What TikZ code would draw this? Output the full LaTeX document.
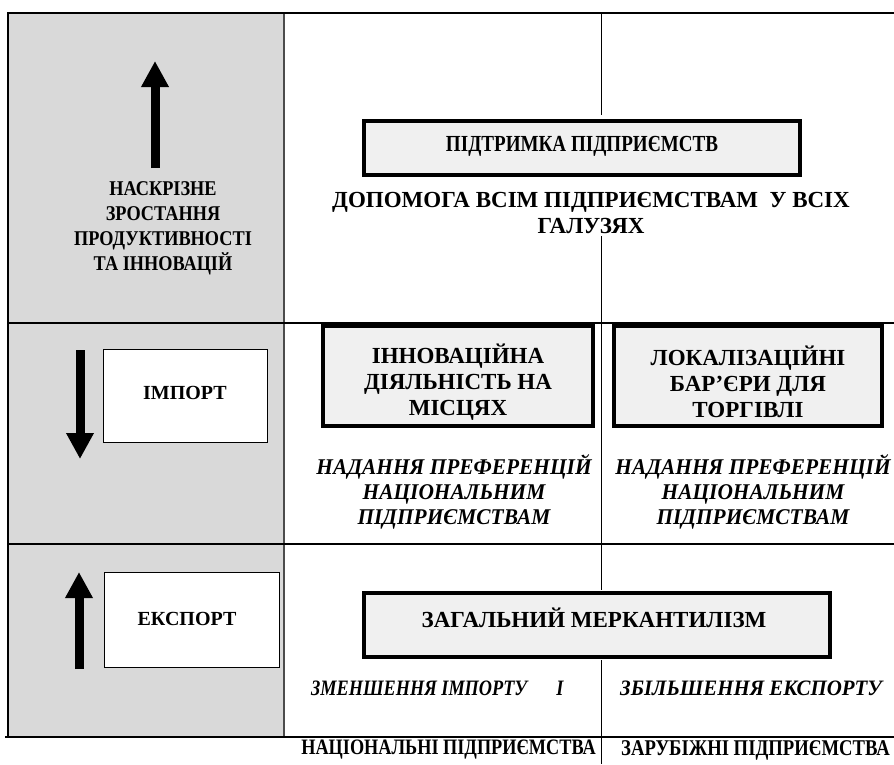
\documentclass[tikz,border=0pt]{standalone}
\usepackage{fontspec}
\setmainfont{Liberation Serif}
\newfontfamily\condA{Liberation Serif}[FakeStretch=0.83]
\newfontfamily\condB{Liberation Serif}[FakeStretch=0.87]
\newfontfamily\condC{Liberation Serif}[FakeStretch=0.95]
\usetikzlibrary{arrows.meta}
\definecolor{colgray}{HTML}{D9D9D9}
\definecolor{boxgray}{HTML}{F0F0F0}
\tikzset{
  mainbox/.style={draw=black, line width=3.5pt, fill=boxgray, inner sep=0pt},
  sidebox/.style={draw=black, line width=1pt, fill=white, inner sep=0pt},
  lbl/.style={font=\fontsize{23}{26}\selectfont\bfseries, align=center, inner sep=0pt},
  rule/.style={line width=2.2pt},
  divider/.style={line width=0.9pt},
  bigarrow/.style={line width=9pt, -{Triangle[width=26pt,length=26pt]}},
}
\begin{document}
\begin{tikzpicture}[x=1pt,y=-1pt]
\useasboundingbox (0,0) rectangle (894,764);
% gray column
\fill[colgray] (8,13) rectangle (284,737);
\draw[line width=2pt, black!70] (284,13) -- (284,737);
% frame rules
\draw[rule] (7,13) -- (894,13);
\draw[rule] (8,323) -- (894,323);
\draw[rule] (8,544) -- (894,544);
\draw[line width=2.8pt] (5,737) -- (894,737);
\draw[rule] (8,12) -- (8,738);
% central divider
\draw[divider] (601,13) -- (601,115);
\draw[divider] (601,236) -- (601,590);
\draw[divider] (601,660) -- (601,764);
% top row
\node[mainbox, minimum width=436pt, minimum height=54pt] (support) at (582,148) {};
\node[lbl, font=\fontsize{23}{26}\selectfont\condA\bfseries] (supporttxt) at (582,146) {ПІДТРИМКА ПІДПРИЄМСТВ};
\node[lbl] (help) at (591,213) {ДОПОМОГА ВСІМ ПІДПРИЄМСТВАМ\ \ У ВСІХ\\ГАЛУЗЯХ};
\coordinate (a1s) at (155,168);
\coordinate (a1e) at (155,61);
\draw[bigarrow] (a1s) -- (a1e);
\node[lbl, font=\fontsize{21}{25}\selectfont\condB\bfseries] (through) at (163,228) {НАСКРІЗНЕ\\ЗРОСТАННЯ\\ПРОДУКТИВНОСТІ\\ТА ІННОВАЦІЙ};
% middle row
\node[mainbox, minimum width=270pt, minimum height=100pt] (innov) at (458,376) {};
\node[lbl] (innovtxt) at (458,382) {ІННОВАЦІЙНА\\ДІЯЛЬНІСТЬ НА\\МІСЦЯХ};
\node[mainbox, minimum width=268pt, minimum height=100pt] (local) at (748,376) {};
\node[lbl] (localtxt) at (748,382) {ЛОКАЛІЗАЦІЙНІ\\БАР’ЄРИ ДЛЯ\\ТОРГІВЛІ};
\node[lbl, font=\fontsize{22.5}{25}\selectfont\condC\bfseries\itshape] (pref1) at (454,492) {НАДАННЯ ПРЕФЕРЕНЦІЙ\\НАЦІОНАЛЬНИМ\\ПІДПРИЄМСТВАМ};
\node[lbl, font=\fontsize{22.5}{25}\selectfont\condC\bfseries\itshape] (pref2) at (753,492) {НАДАННЯ ПРЕФЕРЕНЦІЙ\\НАЦІОНАЛЬНИМ\\ПІДПРИЄМСТВАМ};
\node[sidebox, minimum width=164pt, minimum height=93pt] (import) at (185,396) {};
\node[lbl, font=\fontsize{20}{24}\selectfont\bfseries] (importtxt) at (185,393) {ІМПОРТ};
\coordinate (a2s) at (80,350);
\coordinate (a2e) at (80,459);
\draw[bigarrow] (a2s) -- (a2e);
% bottom row
\node[mainbox, minimum width=466pt, minimum height=64pt] (merc) at (597,625) {};
\node[lbl] (merctxt) at (594,618) {ЗАГАЛЬНИЙ МЕРКАНТИЛІЗМ};
\node[lbl, font=\fontsize{22}{25}\selectfont\condA\bfseries\itshape, anchor=west] (less) at (311,688) {ЗМЕНШЕННЯ ІМПОРТУ};
\node[lbl, font=\fontsize{22}{25}\selectfont\condA\bfseries\itshape] (andtxt) at (560,688) {І};
\node[lbl, font=\fontsize{22}{25}\selectfont\condC\bfseries\itshape, anchor=west] (more) at (620,688) {ЗБІЛЬШЕННЯ ЕКСПОРТУ};
\node[sidebox, minimum width=175pt, minimum height=95pt] (export) at (192,620) {};
\node[lbl, font=\fontsize{20}{24}\selectfont\bfseries] (exporttxt) at (187,619) {ЕКСПОРТ};
\coordinate (a3s) at (79,669);
\coordinate (a3e) at (79,572);
\draw[bigarrow] (a3s) -- (a3e);
% axis labels
\node[lbl, font=\fontsize{22}{25}\selectfont\condA\bfseries, anchor=east] (nat) at (596,750) {НАЦІОНАЛЬНІ ПІДПРИЄМСТВА};
\node[lbl, font=\fontsize{22.5}{25}\selectfont\condA\bfseries, anchor=west] (for) at (621,750) {ЗАРУБІЖНІ ПІДПРИЄМСТВА};
\end{tikzpicture}
\end{document}
